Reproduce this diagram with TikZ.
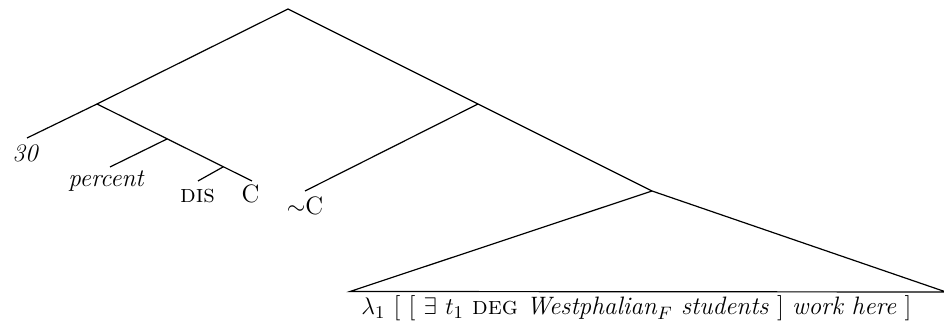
\documentclass[tikz,border=0pt]{standalone}
\usepackage{amssymb}
\begin{document}
\begin{tikzpicture}[x=0.5pt,y=-0.5pt,
  branch/.style={line width=0.6pt},
  leaf/.style={inner sep=0pt,anchor=base,font=\fontsize{12.6}{15}\selectfont}]
\useasboundingbox (0,0) rectangle (944,324);
% inner points
\coordinate (R) at (288,9);
\coordinate (A) at (97,104);
\coordinate (B) at (478,104);
\coordinate (D) at (652,191);
\coordinate (P1) at (167,139);
\coordinate (P2) at (223,167);
% branch ends
\coordinate (e30) at (27,138);
\coordinate (eper) at (110,167);
\coordinate (edis) at (198,181);
\coordinate (eC) at (252,181);
\coordinate (enC) at (305,191);
\coordinate (tl) at (350,291.5);
\coordinate (tr) at (946,292);
% leaves
\node[leaf] (n30) at (25,162) {\itshape 30};
\node[leaf] (nper) at (106,187) {\itshape percent};
\node[leaf] (ndis) at (197.5,203) {\textsc{dis}};
\node[leaf] (nC) at (250.5,203) {C};
\node[leaf] (nnC) at (305,215) {$\sim$C};
\node[leaf,anchor=base west] (nlam) at (361,315) {$\lambda_1$ [ [ $\exists$ $t_1$ \textsc{deg} \textit{Westphalian}$_F$ \textit{students} ] \textit{work here} ]};
% connectors
\draw[branch] (A) -- (R) -- (B) -- (D);
\draw[branch] (e30) -- (A) -- (eC);
\draw[branch] (P1) -- (eper);
\draw[branch] (P2) -- (edis);
\draw[branch] (B) -- (enC);
\draw[branch] (tl) -- (D) -- (tr) -- cycle;
\end{tikzpicture}
\end{document}
